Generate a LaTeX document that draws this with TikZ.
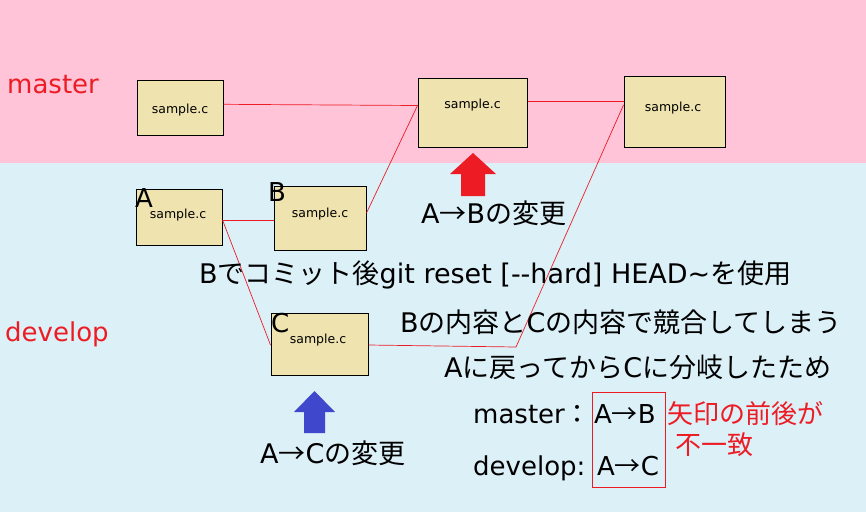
\documentclass[tikz,border=0pt]{standalone}
\usepackage{fontspec}
\setmainfont{DejaVu Sans}
\newfontfamily\jp{Noto Sans CJK JP}
\definecolor{pinkbg}{RGB}{255,196,216}
\definecolor{bluebg}{RGB}{220,240,248}
\definecolor{tanbox}{RGB}{239,227,176}
\definecolor{redc}{RGB}{237,28,36}
\definecolor{bluec}{RGB}{63,72,204}
\tikzset{
  filebox/.style={draw=black, fill=tanbox, line width=1pt, inner sep=0pt},
  fname/.style={anchor=base, inner sep=0pt, font=\fontsize{12.5pt}{14pt}\selectfont},
  big/.style={anchor=base west, inner sep=0pt, font=\fontsize{26pt}{30pt}\selectfont},
  bigger/.style={anchor=base west, inner sep=0pt, font=\fontsize{27pt}{31pt}\selectfont},
  redtxt/.style={big, text=redc},
  conn/.style={draw=redc, line width=0.7pt},
}
\newcommand{\ar}{{\jp →}}
\begin{document}
\begin{tikzpicture}[x=1pt,y=-1pt]
\useasboundingbox (0,0) rectangle (866,512);
\fill[pinkbg] (0,0) rectangle (866,163);
\fill[bluebg] (0,163) rectangle (866,512);

% boxes
\node[filebox, minimum width=86pt, minimum height=55pt] (m1) at (180,108.3) {};
\node[filebox, minimum width=109pt, minimum height=69pt] (m2) at (472.5,112.5) {};
\node[filebox, minimum width=101pt, minimum height=71pt] (m3) at (674.5,111.5) {};
\node[filebox, minimum width=86pt, minimum height=56pt] (a) at (179,217) {};
\node[filebox, minimum width=92pt, minimum height=64pt] (b) at (320,218) {};
\node[filebox, minimum width=97pt, minimum height=62pt] (c) at (319.5,344) {};

\node[fname] (tm1) at (180,113) {sample.c};
\node[fname] (tm2) at (472.5,108) {sample.c};
\node[fname] (tm3) at (673,111) {sample.c};
\node[fname] (ta) at (178,218) {sample.c};
\node[fname] (tb) at (320,217) {sample.c};
\node[fname] (tc) at (318,343) {sample.c};

% connectors
\coordinate (bend) at (516,347);
\draw[conn] ([yshift=4pt]m1.east) -- ([yshift=7pt]m2.west);
\draw[conn] ([yshift=11.5pt]m2.east) -- ([yshift=10.5pt]m3.west);
\draw[conn] ([yshift=5pt]b.east) -- ([yshift=7pt]m2.west);
\draw[conn] ([yshift=-3pt]a.east) -- ([yshift=-2pt]b.west);
\draw[conn] ([yshift=-3pt]a.east) -- ([yshift=-1pt]c.west);
\draw[conn] ([yshift=-1pt]c.east) -- (bend) -- ([yshift=6.5pt]m3.west);

% labels
\node[redtxt] (lmaster) at (7,93) {master};
\node[redtxt] (ldevelop) at (5,341) {develop};
\node[big] (la) at (135,207) {A};
\node[big] (lb) at (268,201) {B};
\node[big] (lc) at (271,332) {C};

% arrows
\fill[redc] (473,153) -- (496,174) -- (485,174) -- (485,196) -- (461,196) -- (461,174) -- (450,174) -- cycle;
\fill[bluec] (314.5,391) -- (335,412) -- (325,412) -- (325,433) -- (304,433) -- (304,412) -- (294,412) -- cycle;

\node[bigger] (tab) at (421,223) {A\ar B{\jp の変更}};
\node[bigger] (tac) at (260,463) {A\ar C{\jp の変更}};
\node[bigger] (l1) at (199,283) {B{\jp でコミット後}git reset [-{}-hard] HEAD\textasciitilde{\jp を使用}};
\node[bigger] (l2) at (400,332) {B{\jp の内容と}C{\jp の内容で競合してしまう}};
\node[bigger] (l3) at (444,377) {A{\jp に戻ってから}C{\jp に分岐したため}};
\node[big] (lm) at (473,423) {master{\jp ：}};
\node[big] (lmab) at (594,423) {A\ar B};
\node[big] (ld) at (473,475) {develop:};
\node[big] (ldac) at (597,475) {A\ar C};
\node[draw=redc, line width=1pt, minimum width=73pt, minimum height=95pt, inner sep=0pt] (rb) at (628.5,439.5) {};
\node[redtxt, font=\jp\fontsize{26pt}{30pt}\selectfont] (n1) at (667,423) {矢印の前後が};
\node[redtxt, font=\jp\fontsize{26pt}{30pt}\selectfont] (n2) at (675,454) {不一致};
\end{tikzpicture}
\end{document}
